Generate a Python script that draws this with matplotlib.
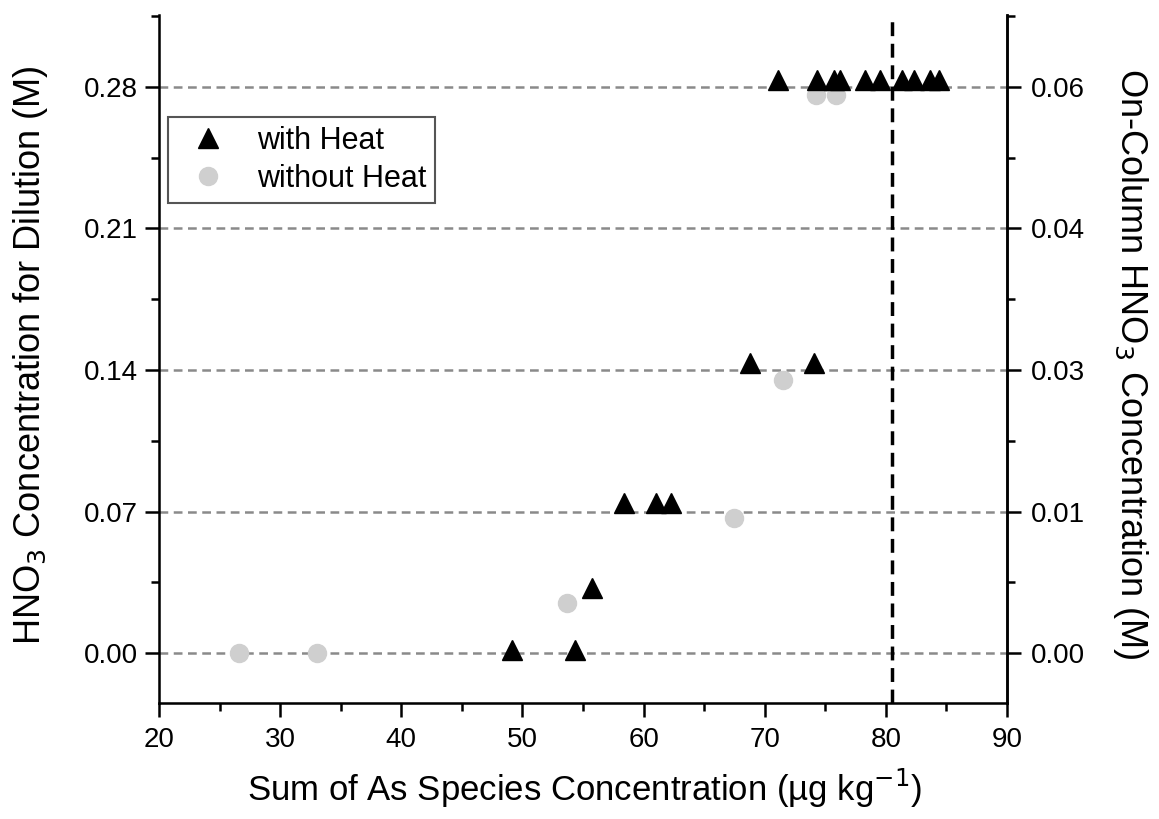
import matplotlib
matplotlib.use("Agg")
import matplotlib.pyplot as plt
import numpy as np
from matplotlib.ticker import MultipleLocator

plt.rcParams['font.family'] = ['Liberation Sans', 'DejaVu Sans']

# with heat (triangles)
heat_x = [49.1, 54.3, 55.7, 58.4, 61.0, 62.3, 68.8, 74.1,
          71.1, 74.3, 75.7, 76.2, 78.3, 79.5, 81.3, 82.3, 83.6, 84.4]
heat_y = [0.0015, 0.0015, 0.032, 0.074, 0.074, 0.074, 0.1437, 0.1437,
          0.2835, 0.2835, 0.2835, 0.2835, 0.2835, 0.2835, 0.2835, 0.2835, 0.2835, 0.2835]

# without heat (circles)
noheat_x = [26.6, 33.0, 53.7, 67.5, 71.5, 74.2, 75.9]
noheat_y = [0.0, 0.0, 0.025, 0.0669, 0.135, 0.276, 0.276]

yticks = [0.00, 0.07, 0.14, 0.21, 0.28]
left_labels = ['0.00', '0.07', '0.14', '0.21', '0.28']
right_labels = ['0.00', '0.01', '0.03', '0.04', '0.06']
limit_x = 80.5

fig = plt.figure(figsize=(11.59, 8.19), dpi=100)
ax = fig.add_axes([0.1372, 0.1416, 0.7317, 0.8401])

for yt in yticks:
    ax.axhline(yt, color='#8a8a8a', ls=(0, (3.5, 2.2)), lw=1.8, zorder=1)
ax.axvline(limit_x, color='black', ls=(0, (4, 2.2)), lw=2.5, zorder=2)

ax.plot(heat_x, heat_y, ls='none', marker='^', ms=14, color='black',
        label='with Heat', zorder=4)
ax.plot(noheat_x, noheat_y, ls='none', marker='o', ms=13, color='#cfcfcf',
        label='without Heat', zorder=3)

ax.set_xlim(20, 90)
ax.set_ylim(-0.0247, 0.3156)
ax.xaxis.set_major_locator(MultipleLocator(10))
ax.xaxis.set_minor_locator(MultipleLocator(5))
ax.set_yticks(yticks)
ax.set_yticklabels(left_labels)
ax.yaxis.set_minor_locator(MultipleLocator(0.035))

ax.spines['top'].set_visible(False)
for s in ['left', 'right', 'bottom']:
    ax.spines[s].set_linewidth(1.8)
ax.tick_params(which='major', direction='out', length=10, width=1.8, labelsize=20)
ax.tick_params(axis='x', which='major', pad=7)
ax.tick_params(axis='y', which='major', pad=5)
ax.tick_params(which='minor', direction='out', length=5.5, width=1.8)

ax2 = ax.twinx()
ax2.set_ylim(ax.get_ylim())
ax2.set_yticks(yticks)
ax2.set_yticklabels(right_labels)
ax2.yaxis.set_minor_locator(MultipleLocator(0.035))
ax2.spines['top'].set_visible(False)
ax2.spines['right'].set_linewidth(1.8)
ax2.tick_params(which='major', direction='out', length=10, width=1.8, labelsize=20, pad=7)
ax2.tick_params(which='minor', direction='out', length=5.5, width=1.8)

# axis titles
fig.text(0.5045, 0.022, 'Sum of As Species Concentration (\u00b5g kg$^{-1}$)',
         fontsize=25, ha='center', va='baseline')
fig.text(0.026, 0.566, 'HNO$_3$ Concentration for Dilution (M)',
         fontsize=26, rotation=90, ha='center', va='center')
fig.text(0.975, 0.556, 'On-Column HNO$_3$ Concentration (M)',
         fontsize=26, rotation=270, ha='center', va='center')

leg = ax.legend(loc='upper left', bbox_to_anchor=(168 / 1159, 1 - 117 / 819),
                bbox_transform=fig.transFigure, borderaxespad=0, fontsize=22,
                frameon=True, fancybox=False, edgecolor='#555555', framealpha=1,
                handletextpad=0.6, borderpad=0.3, labelspacing=0.25)
leg.get_frame().set_linewidth(1.5)

fig.savefig('out.png', dpi=100)
